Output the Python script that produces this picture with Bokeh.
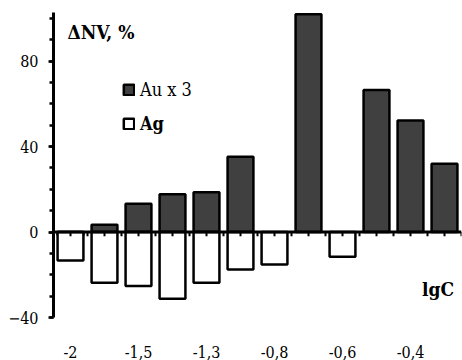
from bokeh.plotting import figure
from bokeh.models import Range1d, FixedTicker, Label, Legend, LegendItem, ColumnDataSource, Span
from bokeh.embed import file_html
from bokeh.resources import INLINE

# ---- data ----
categories = ["-2", "", "-1,5", "", "-1,3", "", "-0,8", "", "-0,6", "", "-0,4", ""]
au_values = [-1.5, 3.4, 13.3, 17.7, 18.7, 35.3, float("nan"), 102, float("nan"), 66.5, 52.2, 32.0]
ag_values = [-13.3, -23.7, -25.3, -31.2, -23.7, -17.5, -15.2, float("nan"), -11.5,
             float("nan"), float("nan"), float("nan")]
y_major = [-40, 0, 40, 80]
y_minor = list(range(-40, 101, 10))

FONT = "DejaVu Serif Condensed"
x = list(range(1, len(categories) + 1))
src = ColumnDataSource(dict(x=x, au=au_values, ag=ag_values))

p = figure(width=462, height=360, output_backend="svg", toolbar_location=None,
           x_range=Range1d(0.5, len(categories) + 0.5), y_range=Range1d(-40, 102.8),
           min_border_left=53, min_border_right=1, min_border_top=12, min_border_bottom=41)
p.grid.visible = False
p.outline_line_color = None
p.background_fill_color = "white"

au_r = p.vbar(x="x", top="au", bottom=0, width=0.76, source=src,
              fill_color="#404040", line_color="black", line_width=2.5)
ag_r = p.vbar(x="x", top="ag", bottom=0, width=0.76, source=src,
              fill_color="white", line_color="black", line_width=2.5)

# zero line with small tick marks at category centres and boundaries
zero_ticks = sorted([v - 0.5 for v in x] + x + [x[-1] + 0.5])
p.segment(x0=zero_ticks, y0=[0] * len(zero_ticks), x1=zero_ticks, y1=[-2.0] * len(zero_ticks),
          line_color="black", line_width=2)
p.add_layout(Span(location=0, dimension="width", line_color="black", line_width=3))

# bottom axis: labels only
xa = p.xaxis[0]
xa.ticker = FixedTicker(ticks=x)
xa.major_label_overrides = {i: c for i, c in zip(x, categories)}
xa.axis_line_color = None
xa.major_tick_line_color = None
xa.minor_tick_line_color = None
xa.major_label_standoff = 22
xa.major_label_text_font = FONT
xa.major_label_text_font_size = "16px"
xa.major_label_text_color = "black"

# y axis
ya = p.yaxis[0]
ya.ticker = FixedTicker(ticks=y_major, minor_ticks=y_minor)
ya.axis_line_width = 3
ya.axis_line_color = "black"
ya.major_tick_out = 5
ya.major_tick_in = 0
ya.major_tick_line_width = 2.5
ya.minor_tick_out = 4
ya.minor_tick_in = 0
ya.minor_tick_line_width = 2.5
ya.major_label_standoff = 10
ya.major_label_text_font = FONT
ya.major_label_text_font_size = "16px"
ya.major_label_text_color = "black"

# legends
for renderer, label, style, yloc in [(au_r, "Au x 3", "normal", 217), (ag_r, "Ag", "bold", 183)]:
    lg = Legend(items=[LegendItem(label=label, renderers=[renderer])],
                location=(69, yloc), padding=0, margin=0, spacing=0,
                glyph_width=13, glyph_height=13, label_standoff=5,
                label_text_font=FONT, label_text_font_size="18px",
                label_text_font_style=style, label_text_color="black",
                border_line_alpha=0, background_fill_alpha=0)
    p.add_layout(lg)

p.add_layout(Label(x=0.91, y=93.5, text="ΔNV, %", text_font=FONT, text_font_size="19px",
                   text_font_style="bold", text_color="black", text_baseline="alphabetic"))
p.add_layout(Label(x=11.34, y=-26.5, text="lgC", text_font=FONT, text_font_size="19px",
                   text_font_style="bold", text_color="black", text_baseline="alphabetic"))

open("out.html", "w").write(file_html(p, INLINE))
